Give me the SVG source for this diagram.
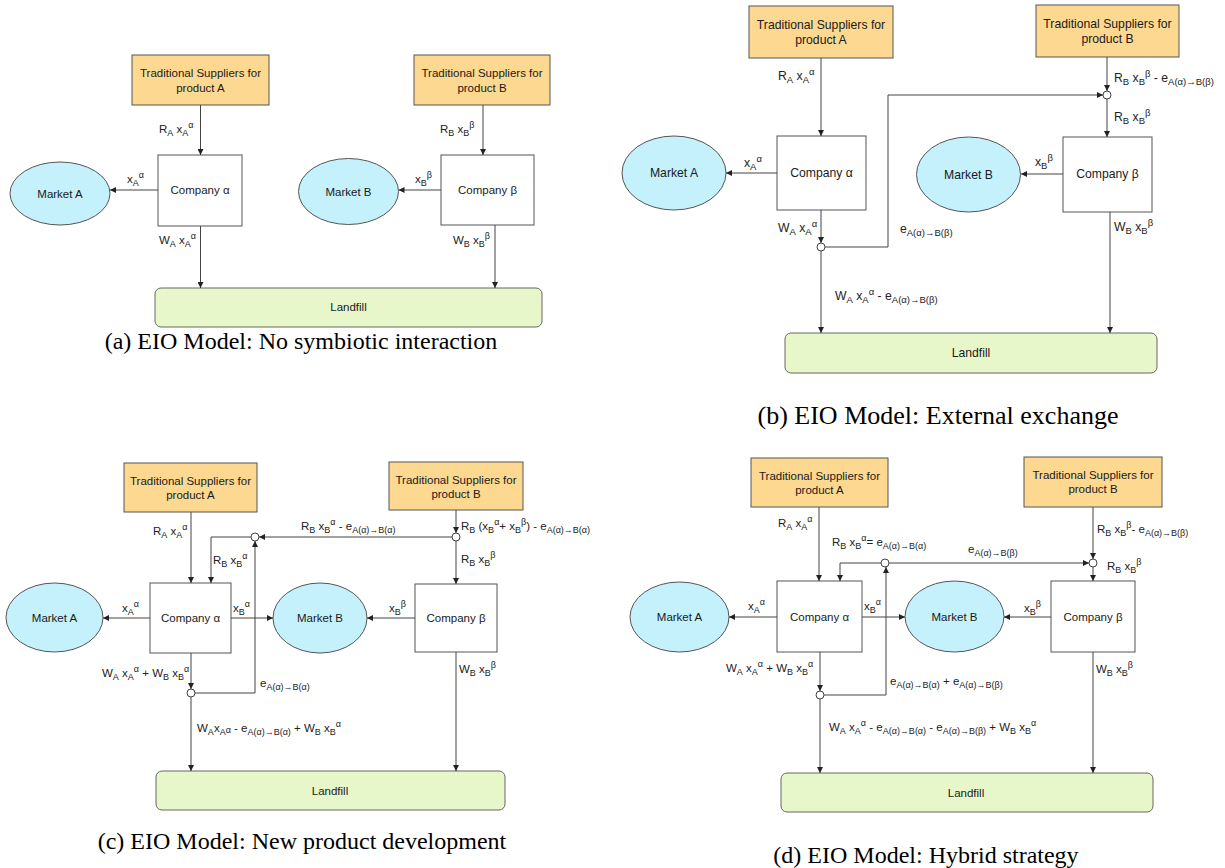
<svg xmlns="http://www.w3.org/2000/svg" width="1225" height="868" viewBox="0 0 1225 868">
<style>
.sup{fill:#fdd890;stroke:#555;stroke-width:1}
.co{fill:#fff;stroke:#555;stroke-width:1}
.mk{fill:#c4f1fc;stroke:#555;stroke-width:1}
.lf{fill:#e8f7c9;stroke:#666;stroke-width:1}
.j{fill:#fff;stroke:#444;stroke-width:1}
.w{fill:none;stroke:#444;stroke-width:1}
.n{font-family:"Liberation Sans",Arial,sans-serif;font-size:11.5px;fill:#1a1a1a;text-anchor:middle}
.l{font-family:"Liberation Sans",Arial,sans-serif;font-size:11.5px;fill:#222}
.s{font-size:9px}
.pb .n,.pb .l{font-size:12.2px}
.pb .s{font-size:9.5px}
.c{font-family:"Liberation Serif","Times New Roman",serif;font-size:24px;fill:#000;text-anchor:middle}
</style>
<defs>
<marker id="ar" markerUnits="userSpaceOnUse" markerWidth="6" markerHeight="6" refX="6" refY="3" orient="auto">
<path d="M0,0 L6,3 L0,6 z" fill="#222"/>
</marker>
</defs>
<rect width="1225" height="868" fill="#fff"/>

<!-- Panel (a) -->
<g id="a-supA"><rect class="sup" x="132" y="55" width="137" height="50"/><text class="n" x="200.5" y="77">Traditional Suppliers for</text><text class="n" x="200.5" y="92">product A</text></g>
<g id="a-supB"><rect class="sup" x="414" y="55" width="136" height="50"/><text class="n" x="482" y="77">Traditional Suppliers for</text><text class="n" x="482" y="92">product B</text></g>
<g id="a-compA"><rect class="co" x="158" y="155" width="84" height="71"/><text class="n" x="200" y="194">Company α</text></g>
<g id="a-compB"><rect class="co" x="441" y="155" width="93" height="70"/><text class="n" x="487.5" y="194">Company β</text></g>
<g id="a-mktA"><ellipse class="mk" cx="60" cy="193.5" rx="50" ry="31.5"/><text class="n" x="60" y="198">Market A</text></g>
<g id="a-mktB"><ellipse class="mk" cx="348.5" cy="191.5" rx="50" ry="33"/><text class="n" x="348.5" y="196">Market B</text></g>
<g id="a-landfill"><rect class="lf" x="155" y="288" width="387" height="39" rx="6"/><text class="n" x="348.5" y="311">Landfill</text></g>
<g id="a-connectors">
<path class="w" d="M200.5,105 V155" marker-end="url(#ar)"/>
<path class="w" d="M158,190 H110" marker-end="url(#ar)"/>
<path class="w" d="M200.5,226 V288" marker-end="url(#ar)"/>
<path class="w" d="M483,105 V155" marker-end="url(#ar)"/>
<path class="w" d="M441,190 H398.5" marker-end="url(#ar)"/>
<path class="w" d="M495,225 V288" marker-end="url(#ar)"/>
</g>
<g id="a-labels">
<text class="l" x="159" y="133">R<tspan class="s" dy="3">A</tspan><tspan dy="-3"> x</tspan><tspan class="s" dy="3">A</tspan><tspan class="s" dy="-8">α</tspan></text>
<text class="l" x="127" y="183">x<tspan class="s" dy="3">A</tspan><tspan class="s" dy="-8">α</tspan></text>
<text class="l" x="159" y="244">W<tspan class="s" dy="3">A</tspan><tspan dy="-3"> x</tspan><tspan class="s" dy="3">A</tspan><tspan class="s" dy="-8">α</tspan></text>
<text class="l" x="440" y="133">R<tspan class="s" dy="3">B</tspan><tspan dy="-3"> x</tspan><tspan class="s" dy="3">B</tspan><tspan class="s" dy="-8">β</tspan></text>
<text class="l" x="415" y="183">x<tspan class="s" dy="3">B</tspan><tspan class="s" dy="-8">β</tspan></text>
<text class="l" x="453" y="244">W<tspan class="s" dy="3">B</tspan><tspan dy="-3"> x</tspan><tspan class="s" dy="3">B</tspan><tspan class="s" dy="-8">β</tspan></text>
</g>
<text class="c" x="301" y="349">(a) EIO Model: No symbiotic interaction</text>

<!-- Panel (b) -->
<g class="pb">
<g id="b-supA"><rect class="sup" x="749" y="6" width="144" height="52"/><text class="n" x="821" y="29">Traditional Suppliers for</text><text class="n" x="821" y="44">product A</text></g>
<g id="b-supB"><rect class="sup" x="1036" y="5" width="143" height="52"/><text class="n" x="1107.5" y="28">Traditional Suppliers for</text><text class="n" x="1107.5" y="43">product B</text></g>
<g id="b-compA"><rect class="co" x="777" y="136" width="89" height="74"/><text class="n" x="821.5" y="177">Company α</text></g>
<g id="b-compB"><rect class="co" x="1063" y="137" width="89" height="75"/><text class="n" x="1107.5" y="178">Company β</text></g>
<g id="b-mktA"><ellipse class="mk" cx="674" cy="173" rx="52" ry="37"/><text class="n" x="674" y="177">Market A</text></g>
<g id="b-mktB"><ellipse class="mk" cx="968.5" cy="174.5" rx="52" ry="37.5"/><text class="n" x="968.5" y="179">Market B</text></g>
<g id="b-landfill"><rect class="lf" x="785" y="333" width="372" height="40" rx="6"/><text class="n" x="971" y="357">Landfill</text></g>
<g id="b-connectors">
<path class="w" d="M821,58 V136" marker-end="url(#ar)"/>
<path class="w" d="M777,173 H726" marker-end="url(#ar)"/>
<path class="w" d="M821,210 V243" marker-end="url(#ar)"/>
<path class="w" d="M825,247 H888 V95 H1103" marker-end="url(#ar)"/>
<path class="w" d="M1107,57 V91" marker-end="url(#ar)"/>
<path class="w" d="M1107,99 V137" marker-end="url(#ar)"/>
<path class="w" d="M1063,174 H1021" marker-end="url(#ar)"/>
<path class="w" d="M821,251 V333" marker-end="url(#ar)"/>
<path class="w" d="M1110,212 V333" marker-end="url(#ar)"/>
<circle class="j" cx="821" cy="247" r="4"/>
<circle class="j" cx="1107" cy="95" r="4"/>
</g>
<g id="b-labels">
<text class="l" x="778" y="80">R<tspan class="s" dy="3">A</tspan><tspan dy="-3"> x</tspan><tspan class="s" dy="3">A</tspan><tspan class="s" dy="-8">α</tspan></text>
<text class="l" x="744" y="167">x<tspan class="s" dy="3">A</tspan><tspan class="s" dy="-8">α</tspan></text>
<text class="l" x="778" y="232">W<tspan class="s" dy="3">A</tspan><tspan dy="-3"> x</tspan><tspan class="s" dy="3">A</tspan><tspan class="s" dy="-8">α</tspan></text>
<text class="l" x="900" y="233">e<tspan class="s" dy="3">A(α)→B(β)</tspan></text>
<text class="l" x="835" y="300">W<tspan class="s" dy="3">A</tspan><tspan dy="-3"> x</tspan><tspan class="s" dy="3">A</tspan><tspan class="s" dy="-8">α</tspan><tspan dy="5"> -  e</tspan><tspan class="s" dy="3">A(α)→B(β)</tspan></text>
<text class="l" x="1114" y="231">W<tspan class="s" dy="3">B</tspan><tspan dy="-3"> x</tspan><tspan class="s" dy="3">B</tspan><tspan class="s" dy="-8">β</tspan></text>
<text class="l" x="1114" y="82">R<tspan class="s" dy="3">B</tspan><tspan dy="-3"> x</tspan><tspan class="s" dy="3">B</tspan><tspan class="s" dy="-8">β</tspan><tspan dy="5"> - e</tspan><tspan class="s" dy="3">A(α)→B(β)</tspan></text>
<text class="l" x="1114" y="121">R<tspan class="s" dy="3">B</tspan><tspan dy="-3"> x</tspan><tspan class="s" dy="3">B</tspan><tspan class="s" dy="-8">β</tspan></text>
<text class="l" x="1035" y="166">x<tspan class="s" dy="3">B</tspan><tspan class="s" dy="-8">β</tspan></text>
</g>
</g>
<text class="c" x="938" y="424" style="font-size:26px">(b) EIO Model: External exchange</text>

<!-- Panel (c) -->
<g id="c-supA"><rect class="sup" x="124" y="463" width="133" height="49"/><text class="n" x="190.5" y="485">Traditional Suppliers for</text><text class="n" x="190.5" y="499">product A</text></g>
<g id="c-supB"><rect class="sup" x="389" y="462" width="134" height="48"/><text class="n" x="456" y="484">Traditional Suppliers for</text><text class="n" x="456" y="498">product B</text></g>
<g id="c-compA"><rect class="co" x="150" y="583" width="81" height="70"/><text class="n" x="190.5" y="622">Company α</text></g>
<g id="c-compB"><rect class="co" x="415" y="584" width="82" height="68"/><text class="n" x="456" y="622">Company β</text></g>
<g id="c-mktA"><ellipse class="mk" cx="54.5" cy="617.5" rx="48.5" ry="34.5"/><text class="n" x="54.5" y="622">Market A</text></g>
<g id="c-mktB"><ellipse class="mk" cx="320" cy="618" rx="47" ry="35"/><text class="n" x="320" y="622">Market B</text></g>
<g id="c-landfill"><rect class="lf" x="156" y="771" width="349" height="39" rx="6"/><text class="n" x="330" y="795">Landfill</text></g>
<g id="c-connectors">
<path class="w" d="M191,512 V583" marker-end="url(#ar)"/>
<path class="w" d="M150,618 H103" marker-end="url(#ar)"/>
<path class="w" d="M231,618 H273" marker-end="url(#ar)"/>
<path class="w" d="M456,510 V533" marker-end="url(#ar)"/>
<path class="w" d="M452,537 H259" marker-end="url(#ar)"/>
<path class="w" d="M251,537 H211 V583" marker-end="url(#ar)"/>
<path class="w" d="M456,541 V584" marker-end="url(#ar)"/>
<path class="w" d="M415,618 H367" marker-end="url(#ar)"/>
<path class="w" d="M191,653 V689" marker-end="url(#ar)"/>
<path class="w" d="M195,693 H255 V541" marker-end="url(#ar)"/>
<path class="w" d="M191,697 V771" marker-end="url(#ar)"/>
<path class="w" d="M456,652 V771" marker-end="url(#ar)"/>
<circle class="j" cx="255" cy="537" r="4"/>
<circle class="j" cx="456" cy="537" r="4"/>
<circle class="j" cx="191" cy="693" r="4"/>
</g>
<g id="c-labels">
<text class="l" x="153" y="535">R<tspan class="s" dy="3">A</tspan><tspan dy="-3"> x</tspan><tspan class="s" dy="3">A</tspan><tspan class="s" dy="-8">α</tspan></text>
<text class="l" x="213" y="564">R<tspan class="s" dy="3">B</tspan><tspan dy="-3"> x</tspan><tspan class="s" dy="3">B</tspan><tspan class="s" dy="-8">α</tspan></text>
<text class="l" x="301" y="530">R<tspan class="s" dy="3">B</tspan><tspan dy="-3"> x</tspan><tspan class="s" dy="3">B</tspan><tspan class="s" dy="-8">α</tspan><tspan dy="5"> - e</tspan><tspan class="s" dy="3">A(α)→B(α)</tspan></text>
<text class="l" x="461" y="530">R<tspan class="s" dy="3">B</tspan><tspan dy="-3"> (x</tspan><tspan class="s" dy="3">B</tspan><tspan class="s" dy="-8">α</tspan><tspan dy="5">+ x</tspan><tspan class="s" dy="3">B</tspan><tspan class="s" dy="-8">β</tspan><tspan dy="5">) - e</tspan><tspan class="s" dy="3">A(α)→B(α)</tspan></text>
<text class="l" x="461" y="563">R<tspan class="s" dy="3">B</tspan><tspan dy="-3"> x</tspan><tspan class="s" dy="3">B</tspan><tspan class="s" dy="-8">β</tspan></text>
<text class="l" x="122" y="612">x<tspan class="s" dy="3">A</tspan><tspan class="s" dy="-8">α</tspan></text>
<text class="l" x="233" y="612">x<tspan class="s" dy="3">B</tspan><tspan class="s" dy="-8">α</tspan></text>
<text class="l" x="389" y="612">x<tspan class="s" dy="3">B</tspan><tspan class="s" dy="-8">β</tspan></text>
<text class="l" x="102" y="677">W<tspan class="s" dy="3">A</tspan><tspan dy="-3"> x</tspan><tspan class="s" dy="3">A</tspan><tspan class="s" dy="-8">α</tspan><tspan dy="5"> + W</tspan><tspan class="s" dy="3">B</tspan><tspan dy="-3"> x</tspan><tspan class="s" dy="3">B</tspan><tspan class="s" dy="-8">α</tspan></text>
<text class="l" x="260" y="687">e<tspan class="s" dy="3">A(α)→B(α)</tspan></text>
<text class="l" x="197" y="732">W<tspan class="s" dy="3">A</tspan><tspan dy="-3">x</tspan><tspan class="s" dy="3">A</tspan><tspan class="s" dy="-2">α</tspan><tspan dy="-1"> - e</tspan><tspan class="s" dy="3">A(α)→B(α)</tspan><tspan dy="-3"> + W</tspan><tspan class="s" dy="3">B</tspan><tspan dy="-3"> x</tspan><tspan class="s" dy="3">B</tspan><tspan class="s" dy="-8">α</tspan></text>
<text class="l" x="459" y="673">W<tspan class="s" dy="3">B</tspan><tspan dy="-3"> x</tspan><tspan class="s" dy="3">B</tspan><tspan class="s" dy="-8">β</tspan></text>
</g>
<text class="c" x="302" y="849">(c) EIO Model: New product development</text>

<!-- Panel (d) -->
<g id="d-supA"><rect class="sup" x="751" y="458" width="137" height="49"/><text class="n" x="819.5" y="480">Traditional Suppliers for</text><text class="n" x="819.5" y="494">product A</text></g>
<g id="d-supB"><rect class="sup" x="1024" y="457" width="138" height="50"/><text class="n" x="1093" y="479">Traditional Suppliers for</text><text class="n" x="1093" y="493">product B</text></g>
<g id="d-compA"><rect class="co" x="777" y="581" width="85" height="71"/><text class="n" x="819.5" y="621">Company α</text></g>
<g id="d-compB"><rect class="co" x="1051" y="581" width="84" height="71"/><text class="n" x="1093" y="621">Company β</text></g>
<g id="d-mktA"><ellipse class="mk" cx="679.5" cy="617" rx="49.5" ry="35"/><text class="n" x="679.5" y="621">Market A</text></g>
<g id="d-mktB"><ellipse class="mk" cx="954.5" cy="616.5" rx="49.5" ry="35.5"/><text class="n" x="954.5" y="621">Market B</text></g>
<g id="d-landfill"><rect class="lf" x="781" y="773" width="372" height="39" rx="6"/><text class="n" x="966" y="797">Landfill</text></g>
<g id="d-connectors">
<path class="w" d="M819,507 V581" marker-end="url(#ar)"/>
<path class="w" d="M777,617 H729" marker-end="url(#ar)"/>
<path class="w" d="M862,617 H905" marker-end="url(#ar)"/>
<path class="w" d="M881,563 H840 V581" marker-end="url(#ar)"/>
<path class="w" d="M889,563 H1089" marker-end="url(#ar)"/>
<path class="w" d="M1093,507 V559" marker-end="url(#ar)"/>
<path class="w" d="M1093,567 V581" marker-end="url(#ar)"/>
<path class="w" d="M1051,617 H1004" marker-end="url(#ar)"/>
<path class="w" d="M820,652 V691" marker-end="url(#ar)"/>
<path class="w" d="M824,695 H886 V567" marker-end="url(#ar)"/>
<path class="w" d="M820,699 V773" marker-end="url(#ar)"/>
<path class="w" d="M1093,652 V773" marker-end="url(#ar)"/>
<circle class="j" cx="885" cy="563" r="4"/>
<circle class="j" cx="1093" cy="563" r="4"/>
<circle class="j" cx="820" cy="695" r="4"/>
</g>
<g id="d-labels">
<text class="l" x="778" y="527">R<tspan class="s" dy="3">A</tspan><tspan dy="-3"> x</tspan><tspan class="s" dy="3">A</tspan><tspan class="s" dy="-8">α</tspan></text>
<text class="l" x="832" y="546">R<tspan class="s" dy="3">B</tspan><tspan dy="-3"> x</tspan><tspan class="s" dy="3">B</tspan><tspan class="s" dy="-8">α</tspan><tspan dy="5">= e</tspan><tspan class="s" dy="3">A(α)→B(α)</tspan></text>
<text class="l" x="968" y="553">e<tspan class="s" dy="3">A(α)→B(β)</tspan></text>
<text class="l" x="1097" y="533">R<tspan class="s" dy="3">B</tspan><tspan dy="-3"> x</tspan><tspan class="s" dy="3">B</tspan><tspan class="s" dy="-8">β</tspan><tspan dy="5">- e</tspan><tspan class="s" dy="3">A(α)→B(β)</tspan></text>
<text class="l" x="1107" y="570">R<tspan class="s" dy="3">B</tspan><tspan dy="-3"> x</tspan><tspan class="s" dy="3">B</tspan><tspan class="s" dy="-8">β</tspan></text>
<text class="l" x="748" y="610">x<tspan class="s" dy="3">A</tspan><tspan class="s" dy="-8">α</tspan></text>
<text class="l" x="864" y="610">x<tspan class="s" dy="3">B</tspan><tspan class="s" dy="-8">α</tspan></text>
<text class="l" x="1024" y="612">x<tspan class="s" dy="3">B</tspan><tspan class="s" dy="-8">β</tspan></text>
<text class="l" x="726" y="672">W<tspan class="s" dy="3">A</tspan><tspan dy="-3"> x</tspan><tspan class="s" dy="3">A</tspan><tspan class="s" dy="-8">α</tspan><tspan dy="5"> + W</tspan><tspan class="s" dy="3">B</tspan><tspan dy="-3"> x</tspan><tspan class="s" dy="3">B</tspan><tspan class="s" dy="-8">α</tspan></text>
<text class="l" x="890" y="685">e<tspan class="s" dy="3">A(α)→B(α)</tspan><tspan dy="-3"> + e</tspan><tspan class="s" dy="3">A(α)→B(β)</tspan></text>
<text class="l" x="829" y="731">W<tspan class="s" dy="3">A</tspan><tspan dy="-3"> x</tspan><tspan class="s" dy="3">A</tspan><tspan class="s" dy="-8">α</tspan><tspan dy="5"> - e</tspan><tspan class="s" dy="3">A(α)→B(α)</tspan><tspan dy="-3"> - e</tspan><tspan class="s" dy="3">A(α)→B(β)</tspan><tspan dy="-3"> + W</tspan><tspan class="s" dy="3">B</tspan><tspan dy="-3"> x</tspan><tspan class="s" dy="3">B</tspan><tspan class="s" dy="-8">α</tspan></text>
<text class="l" x="1096" y="673">W<tspan class="s" dy="3">B</tspan><tspan dy="-3"> x</tspan><tspan class="s" dy="3">B</tspan><tspan class="s" dy="-8">β</tspan></text>
</g>
<text class="c" x="926" y="863">(d) EIO Model: Hybrid strategy</text>
</svg>
